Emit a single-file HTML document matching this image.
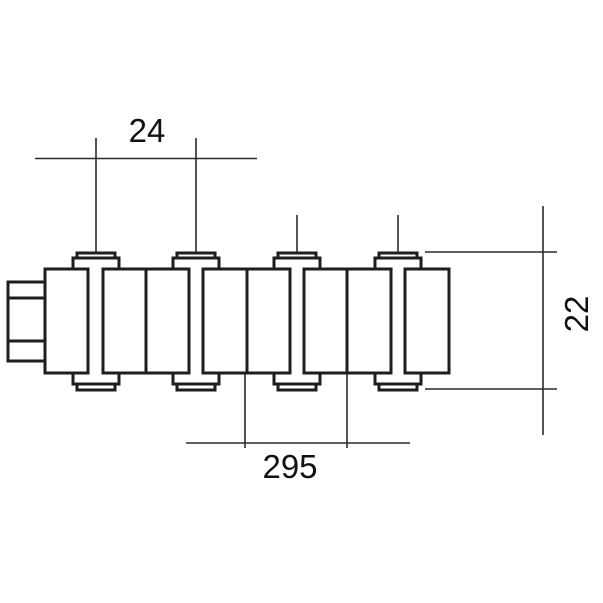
<!DOCTYPE html>
<html><head><meta charset="utf-8"><style>
html,body{margin:0;padding:0;background:#fff;width:603px;height:603px;overflow:hidden}
svg{display:block}
text{font-family:"Liberation Sans","DejaVu Sans",sans-serif;fill:#111}
</style></head><body>
<svg width="603" height="603" viewBox="0 0 603 603">
<g fill="none" stroke="#2a2a2a" stroke-width="1.6">
  <line x1="35" y1="158.5" x2="257" y2="158.5"/>
  <line x1="96" y1="138" x2="96" y2="253"/>
  <line x1="196" y1="138" x2="196" y2="253"/>
  <line x1="297" y1="215" x2="297" y2="253"/>
  <line x1="398" y1="215" x2="398" y2="253"/>
  <line x1="425" y1="252" x2="557" y2="252"/>
  <line x1="425" y1="389" x2="557" y2="389"/>
  <line x1="543" y1="206" x2="543" y2="435"/>
  <line x1="186" y1="443" x2="410" y2="443"/>
  <line x1="245" y1="373" x2="245" y2="448"/>
  <line x1="347" y1="373" x2="347" y2="448"/>
</g>
<g fill="#fff" stroke="#1e1e1e" stroke-width="3">
  <!-- left stub -->
  <rect x="8" y="282" width="37" height="79"/>
  <line x1="8" y1="298" x2="45" y2="298"/>
  <line x1="8" y1="341" x2="45" y2="341"/>
  <!-- pins -->
  <g id="p">
  </g>
  <rect x="77" y="253" width="38" height="5"/><path d="M73,269 V258 H119 V269"/>
  <rect x="77" y="384" width="38" height="6"/><path d="M73,373 V384 H119 V373"/>
  <rect x="177" y="253" width="38" height="5"/><path d="M173,269 V258 H219 V269"/>
  <rect x="177" y="384" width="38" height="6"/><path d="M173,373 V384 H219 V373"/>
  <rect x="278" y="253" width="38" height="5"/><path d="M274,269 V258 H320 V269"/>
  <rect x="278" y="384" width="38" height="6"/><path d="M274,373 V384 H320 V373"/>
  <rect x="379" y="253" width="38" height="5"/><path d="M375,269 V258 H421 V269"/>
  <rect x="379" y="384" width="38" height="6"/><path d="M375,373 V384 H421 V373"/>
  <!-- blocks -->
  <rect x="45" y="269" width="43" height="104"/>
  <rect x="103" y="269" width="43" height="104"/>
  <rect x="146" y="269" width="43" height="104"/>
  <rect x="203" y="269" width="44" height="104"/>
  <rect x="247" y="269" width="43" height="104"/>
  <rect x="304" y="269" width="43" height="104"/>
  <rect x="347" y="269" width="44" height="104"/>
  <rect x="405" y="269" width="44" height="104"/>
</g>
<text x="147" y="142" font-size="33" text-anchor="middle">24</text>
<text x="290" y="478" font-size="33" text-anchor="middle">295</text>
<text x="0" y="0" font-size="33" text-anchor="middle" transform="translate(588,314) rotate(-90)">22</text>
</svg>
</body></html>
